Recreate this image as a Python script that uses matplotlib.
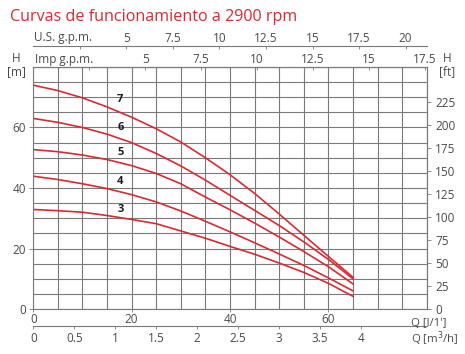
import matplotlib
matplotlib.use('Agg')
import matplotlib.pyplot as plt
import numpy as np

# Flow in l/min and head in m for the five pump curves.
q_lpm = [0, 5, 10, 15, 20, 25, 30, 35, 40, 45, 50, 55, 60, 65]
h_3 = [32.9, 32.5, 32.0, 30.9, 29.6, 28.2, 25.8, 23.4, 20.7, 18.1, 15.2, 12.1, 8.5, 4.2]
h_4 = [43.9, 42.8, 41.4, 39.8, 37.8, 35.4, 32.4, 29.0, 25.5, 21.9, 18.2, 14.4, 10.3, 6.0]
h_5 = [52.7, 52.0, 50.9, 49.4, 47.4, 44.8, 41.4, 37.0, 32.8, 28.4, 23.8, 19.0, 14.0, 8.3]
h_6 = [63.0, 61.7, 60.0, 57.8, 55.0, 51.4, 47.3, 42.6, 37.6, 32.6, 27.6, 22.2, 16.4, 10.0]
h_7 = [74.0, 72.2, 69.8, 66.8, 63.4, 59.6, 55.2, 50.0, 44.4, 38.2, 31.4, 24.4, 17.4, 10.5]
curve_names = ['3', '4', '5', '6', '7']
label_pos = [(17.7, 33.0), (17.7, 42.2), (17.7, 51.8), (17.7, 60.0), (17.7, 69.2)]

us_ticks = [2.5, 5, 7.5, 10, 12.5, 15, 17.5, 20]
imp_ticks = [2.5, 5, 7.5, 10, 12.5, 15, 17.5]
m3h_ticks = [0, 0.5, 1, 1.5, 2, 2.5, 3, 3.5, 4]
ft_ticks = [0, 25, 50, 75, 100, 125, 150, 175, 200, 225]

RED = '#d92a32'
GRID = '#7a7a7a'
TXT = '#4a4a4a'
W, H = 465, 354


def fmt(v):
    return '%g' % v


def px(x, y):
    return x / W, 1 - y / H


def main():
    plt.rcParams['font.family'] = ['Open Sans', 'DejaVu Sans']
    fig = plt.figure(figsize=(W / 100, H / 100), dpi=100)
    ax = fig.add_axes([33.3 / W, 1 - 309 / H, (426.7 - 33.3) / W, (309 - 67) / H])

    for h in [h_3, h_4, h_5, h_6, h_7]:
        ax.plot(q_lpm, h, color=RED, lw=1.2, solid_joinstyle='round')
    for name, (x, y) in zip(curve_names, label_pos):
        ax.text(x, y, name, fontsize=8, fontweight='bold', color='#1a1a2a',
                ha='center', va='center')

    ax.set_xlim(0, 80)
    ax.set_ylim(0, 80)
    ax.set_xticks([0, 20, 40, 60])
    ax.set_xticks(np.arange(0, 81, 5), minor=True)
    ax.set_yticks([0, 20, 40, 60])
    ax.set_yticks(np.arange(0, 81, 5), minor=True)
    ax.grid(True, which='both', color=GRID, lw=0.8)
    ax.set_axisbelow(True)
    ax.tick_params(which='minor', length=0)
    ax.tick_params(which='major', length=3, width=0.6, color=GRID,
                   labelsize=8.5, labelcolor=TXT, pad=2)
    ax.tick_params(axis='x', which='major', length=2, pad=1)
    for s in ax.spines.values():
        s.set_color(GRID)
        s.set_linewidth(0.8)

    # right axis in feet
    ax_ft = ax.secondary_yaxis('right', functions=(lambda m: m / 0.3048,
                                                    lambda f: f * 0.3048))
    ax_ft.set_yticks(ft_ticks)
    ax_ft.set_yticklabels([fmt(v) for v in ft_ticks])
    ax_ft.tick_params(length=3, width=0.6, color=GRID, labelsize=8.5,
                      labelcolor=TXT, pad=3)
    ax_ft.spines['right'].set_color(GRID)

    # top axes: imperial and US gallons per minute
    ax_imp = ax.secondary_xaxis('top', functions=(lambda q: q / 4.54609,
                                                  lambda g: g * 4.54609))
    ax_imp.set_xticks(imp_ticks)
    ax_imp.set_xticklabels([''] + [fmt(v) for v in imp_ticks[1:]])
    ax_imp.tick_params(length=2, width=0.6, color=GRID, direction='in',
                       labelsize=8.5, labelcolor=TXT, pad=1)
    ax_imp.spines['top'].set_color(GRID)

    ax_us = ax.secondary_xaxis(1 + (67 - 46.5) / 242,
                               functions=(lambda q: q / 3.78541,
                                          lambda g: g * 3.78541))
    ax_us.set_xticks(us_ticks)
    ax_us.set_xticklabels([''] + [fmt(v) for v in us_ticks[1:]])
    ax_us.tick_params(length=2, width=0.6, color=GRID, direction='in',
                      labelsize=8.5, labelcolor=TXT, pad=1)
    ax_us.spines['top'].set_color(GRID)

    # bottom axis in m3/h
    ax_m3 = ax.secondary_xaxis(-(326 - 309) / 242,
                               functions=(lambda q: q * 0.06,
                                          lambda m: m / 0.06))
    ax_m3.set_xticks(m3h_ticks)
    ax_m3.set_xticklabels([fmt(v) for v in m3h_ticks])
    ax_m3.tick_params(length=2, width=0.6, color=GRID, labelsize=8.5,
                      labelcolor=TXT, pad=2)
    ax_m3.spines['bottom'].set_color(GRID)

    fig.text(*px(10, 17), 'Curvas de funcionamiento a 2900 rpm', color=RED,
             fontsize=11.6, ha='left', va='center')
    fig.text(*px(34, 38), 'U.S. g.p.m.', color=TXT, fontsize=8.5, ha='left', va='center')
    fig.text(*px(35, 60), 'Imp g.p.m.', color=TXT, fontsize=8.5, ha='left', va='center')
    fig.text(*px(16, 65), 'H\n[m]', color=TXT, fontsize=8.5, ha='center', va='center',
             linespacing=1.0)
    fig.text(*px(447, 65), 'H\n[ft]', color=TXT, fontsize=8.5, ha='center', va='center',
             linespacing=1.0)
    fig.text(*px(446, 323), "Q [l/1']", color=TXT, fontsize=8.2, ha='right', va='center')
    fig.text(*px(459, 338.5), 'Q [m$^3$/h]', color=TXT, fontsize=8.2, ha='right', va='center')

    fig.savefig('out.png', dpi=100)


if __name__ == '__main__':
    main()
